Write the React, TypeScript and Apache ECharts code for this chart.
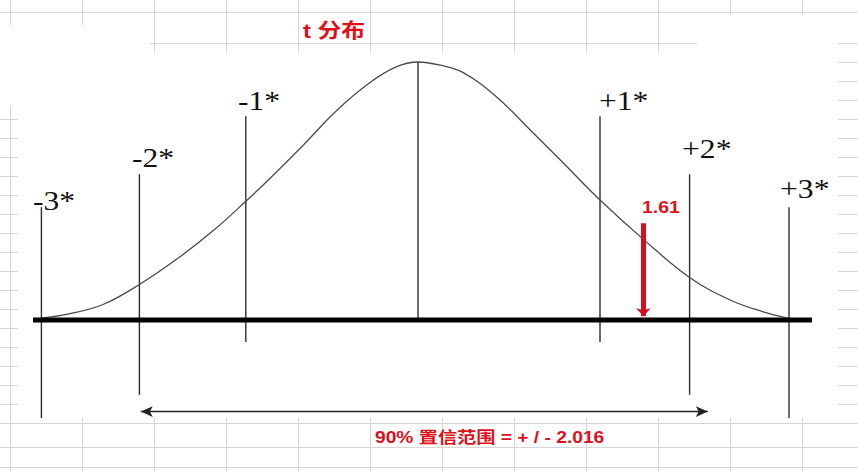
import React, { useEffect, useRef } from 'react';
import * as echarts from 'echarts';

// ---- data (t units, density units) ----
const TITLE = 't 分布';
const CURVE_T = [-2.69, -2.5, -2.25, -1.99, -1.7, -1.46, -1.22, -1.06, -0.82, -0.59, -0.35, -0.16, 0, 0.16, 0.32, 0.56, 0.8, 1.04, 1.3, 1.61, 1.94, 2.23, 2.46, 2.64];
const CURVE_Y = [0.003, 0.009, 0.024, 0.055, 0.098, 0.139, 0.186, 0.219, 0.271, 0.323, 0.367, 0.392, 0.4, 0.395, 0.384, 0.346, 0.295, 0.243, 0.186, 0.125, 0.066, 0.031, 0.013, 0.003];

const MARK_T = [-2.69, -1.99, -1.23, 0, 1.3, 1.94, 2.65];
const MARK_TOP = [0.175, 0.226, 0.316, 0.4, 0.316, 0.226, 0.175];
const MARK_BOTTOM = [-0.152, -0.116, -0.034, 0, -0.034, -0.116, -0.152];

const MARK_LABELS = ['-3*', '-2*', '-1*', '+1*', '+2*', '+3*'];
const MARK_LABEL_T = [-2.75, -2.043, -1.286, 1.293, 1.886, 2.586];
const MARK_LABEL_Y = [0.1845, 0.252, 0.3395, 0.3403, 0.266, 0.203];

const BASELINE_T = [-2.75, 2.814];

const STAT_T = 1.61;
const STAT_TOP = 0.15;
const STAT_LABEL = '1.61';
const STAT_LABEL_POS = [1.6, 0.174];

const RANGE_T = [-1.98, 2.07];
const RANGE_Y = -0.142;
const RANGE_LABEL = '90% 置信范围 = + / - 2.016';
const RANGE_LABEL_POS = [-0.307, -0.182];

const RED = '#e0101a';
const SANS = '"Liberation Sans", "Noto Sans CJK SC", sans-serif';
const SERIF = '"Liberation Serif", serif';

function textSeries(points: number[][], texts: string[], font: string, fill: string, sx: number) {
  return {
    type: 'custom',
    silent: true,
    z: 5,
    data: points,
    renderItem: (params: any, api: any) => {
      const p = api.coord([api.value(0), api.value(1)]);
      return {
        type: 'text',
        x: p[0],
        y: p[1],
        scaleX: sx,
        style: { text: texts[params.dataIndex], font, fill, align: 'left', verticalAlign: 'middle' },
      };
    },
  };
}

function sheetLines() {
  const els: any[] = [];
  const stroke = '#d6d6d6';
  const seg = (x1: number, y1: number, x2: number, y2: number) =>
    els.push({ type: 'line', silent: true, z: 0, shape: { x1, y1, x2, y2 }, style: { stroke, lineWidth: 1 } });
  const cols: number[] = [];
  for (let k = 0; k < 12; k++) cols.push(10.5 + 72 * k);
  seg(0, 12.5, 858, 12.5);
  seg(150, 43.5, 697, 43.5);
  for (let k = 0; k < 20; k++) {
    const y = 43.5 + 19 * k;
    seg(838, y, 858, y);
    if (y > 110) seg(0, y, 18, y);
  }
  [423.5, 447.5, 467.5].forEach((y) => seg(0, y, 858, y));
  cols.forEach((x) => {
    const bottomTop = x < 100 ? 25 : x < 700 ? 53 : 15;
    seg(x, 0, x, bottomTop);
    seg(x, 418, x, 471);
  });
  seg(10.5, 105, 10.5, 418);
  els.push({
    type: 'text',
    silent: true,
    z: 10,
    x: 303,
    y: 31,
    scaleX: 1.19,
    style: { text: TITLE, font: `bold 20px ${SANS}`, fill: RED, align: 'left', verticalAlign: 'middle' },
  });
  return els;
}

export default function App() {
  const ref = useRef<HTMLDivElement>(null);
  useEffect(() => {
    document.body.style.margin = '0';
    const chart = echarts.init(ref.current!, null, { renderer: 'svg' });
    const option: any = {
      animation: false,
      backgroundColor: '#ffffff',
      grid: { left: 12, right: 6, top: 29.75, bottom: 22 },
      xAxis: { type: 'value', min: -2.9, max: 3.1, show: false },
      yAxis: { type: 'value', min: -0.2, max: 0.45, show: false },
      graphic: sheetLines(),
      series: [
        {
          type: 'custom',
          silent: true,
          z: 3,
          data: MARK_T.map((t, i) => [t, MARK_TOP[i], MARK_BOTTOM[i]]),
          encode: { x: 0, y: [1, 2] },
          renderItem: (params: any, api: any) => {
            const a = api.coord([api.value(0), api.value(1)]);
            const b = api.coord([api.value(0), api.value(2)]);
            return {
              type: 'line',
              shape: { x1: a[0], y1: a[1], x2: b[0], y2: b[1] },
              style: { stroke: '#2e2e2e', lineWidth: 1.4 },
            };
          },
        },
        {
          type: 'line',
          silent: true,
          z: 4,
          smooth: 0.4,
          symbol: 'none',
          data: CURVE_T.map((t, i) => [t, CURVE_Y[i]]),
          lineStyle: { color: '#4a4a4a', width: 1.3 },
          markLine: {
            silent: true,
            symbol: ['arrow', 'arrow'],
            symbolSize: [8, 12],
            label: { show: false },
            lineStyle: { type: 'solid', color: '#222222', width: 1.3 },
            data: [[{ coord: [RANGE_T[0], RANGE_Y] }, { coord: [RANGE_T[1], RANGE_Y] }]],
          },
        },
        {
          type: 'line',
          silent: true,
          z: 6,
          symbol: 'none',
          data: BASELINE_T.map((t) => [t, 0]),
          lineStyle: { color: '#000000', width: 5 },
          markLine: {
            silent: true,
            symbol: ['none', 'arrow'],
            symbolSize: [11, 8],
            label: { show: false },
            lineStyle: { type: 'solid', color: '#d4101e', width: 5 },
            data: [[{ coord: [STAT_T, STAT_TOP] }, { coord: [STAT_T, 0.006] }]],
          },
        },
        textSeries(MARK_LABEL_T.map((t, i) => [t, MARK_LABEL_Y[i]]), MARK_LABELS, `27px ${SERIF}`, '#111111', 1.17),
        textSeries([STAT_LABEL_POS], [STAT_LABEL], `bold 16px ${SANS}`, RED, 1.22),
        textSeries([RANGE_LABEL_POS], [RANGE_LABEL], `bold 16px ${SANS}`, RED, 1.2),
      ],
    };
    chart.setOption(option);
    return () => chart.dispose();
  }, []);
  return <div ref={ref} style={{ width: 858, height: 471 }} />;
}
